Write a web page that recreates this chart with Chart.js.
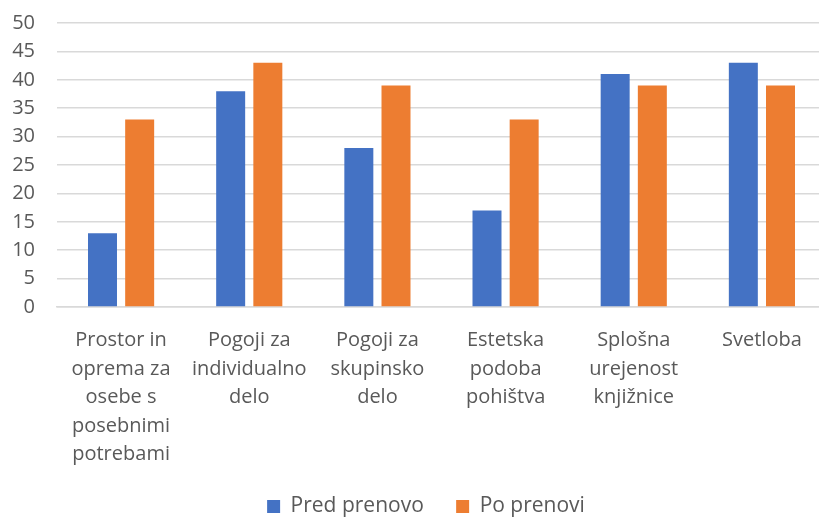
<!DOCTYPE html>
<html>
<head>
<meta charset="utf-8">
<script src="https://cdn.jsdelivr.net/npm/chart.js@4"></script>
<style>
  html, body { margin: 0; padding: 0; background: #fff; overflow: hidden; }
  #wrap { width: 819px; height: 517px; position: relative; overflow: hidden; }
  #inner { position: absolute; left: 0; top: -11px; width: 826px; height: 538px; }
</style>
</head>
<body>
<div id="wrap"><div id="inner"><canvas id="chart"></canvas></div></div>
<script>
const categories = [
  ['Prostor in', 'oprema za', 'osebe s', 'posebnimi', 'potrebami'],
  ['Pogoji za', 'individualno', 'delo'],
  ['Pogoji za', 'skupinsko', 'delo'],
  ['Estetska', 'podoba', 'pohištva'],
  ['Splošna', 'urejenost', 'knjižnice'],
  ['Svetloba']
];
const predPrenovo = [13, 38, 28, 17, 41, 43];
const poPrenovi = [33, 43, 39, 33, 39, 39];
const yTicks = [0, 5, 10, 15, 20, 25, 30, 35, 40, 45, 50];

const textColor = '#595959';
const fontFamily = '"Open Sans", sans-serif';

// nudge the legend a little to the right, centred under the plot like the original
const legendShift = {
  id: 'legendShift',
  afterLayout(chart) {
    chart.legend.left = 26;
  },
};

new Chart(document.getElementById('chart'), {
  type: 'bar',
  data: {
    labels: categories,
    datasets: [
      {
        label: 'Pred prenovo',
        data: predPrenovo,
        backgroundColor: '#4472C4',
        categoryPercentage: 0.58,
        barPercentage: 0.78,
      },
      {
        label: 'Po prenovi',
        data: poPrenovi,
        backgroundColor: '#ED7D31',
        categoryPercentage: 0.58,
        barPercentage: 0.78,
      },
    ],
  },
  options: {
    responsive: true,
    maintainAspectRatio: false,
    animation: false,
    layout: { padding: 0 },
    plugins: {
      legend: {
        position: 'bottom',
        labels: {
          boxWidth: 13,
          boxHeight: 13,
          color: textColor,
          font: { family: fontFamily, size: 21 },
          padding: 16,
          generateLabels: (chart) =>
            Chart.defaults.plugins.legend.labels
              .generateLabels(chart)
              .map((l, i) => ({ ...l, text: i === 0 ? l.text + '   ' : l.text })),
        },
      },
      tooltip: { enabled: false },
    },
    scales: {
      x: {
        grid: { display: false },
        border: { color: '#d9d9d9', width: 1.5 },
        ticks: {
          color: textColor,
          font: { family: fontFamily, size: 20, lineHeight: 1.43 },
          maxRotation: 0,
          autoSkip: false,
          padding: 11,
        },
      },
      y: {
        min: 0,
        max: 50,
        afterBuildTicks: (axis) => {
          axis.ticks = yTicks.map((v) => ({ value: v }));
        },
        afterFit: (axis) => {
          axis.width = 57;
        },
        grid: { color: '#d9d9d9', lineWidth: 1.5, drawTicks: false },
        border: { display: false },
        ticks: {
          color: textColor,
          font: { family: fontFamily, size: 20 },
          autoSkip: false,
          padding: 22,
        },
      },
    },
  },
  plugins: [legendShift],
});
</script>
</body>
</html>
